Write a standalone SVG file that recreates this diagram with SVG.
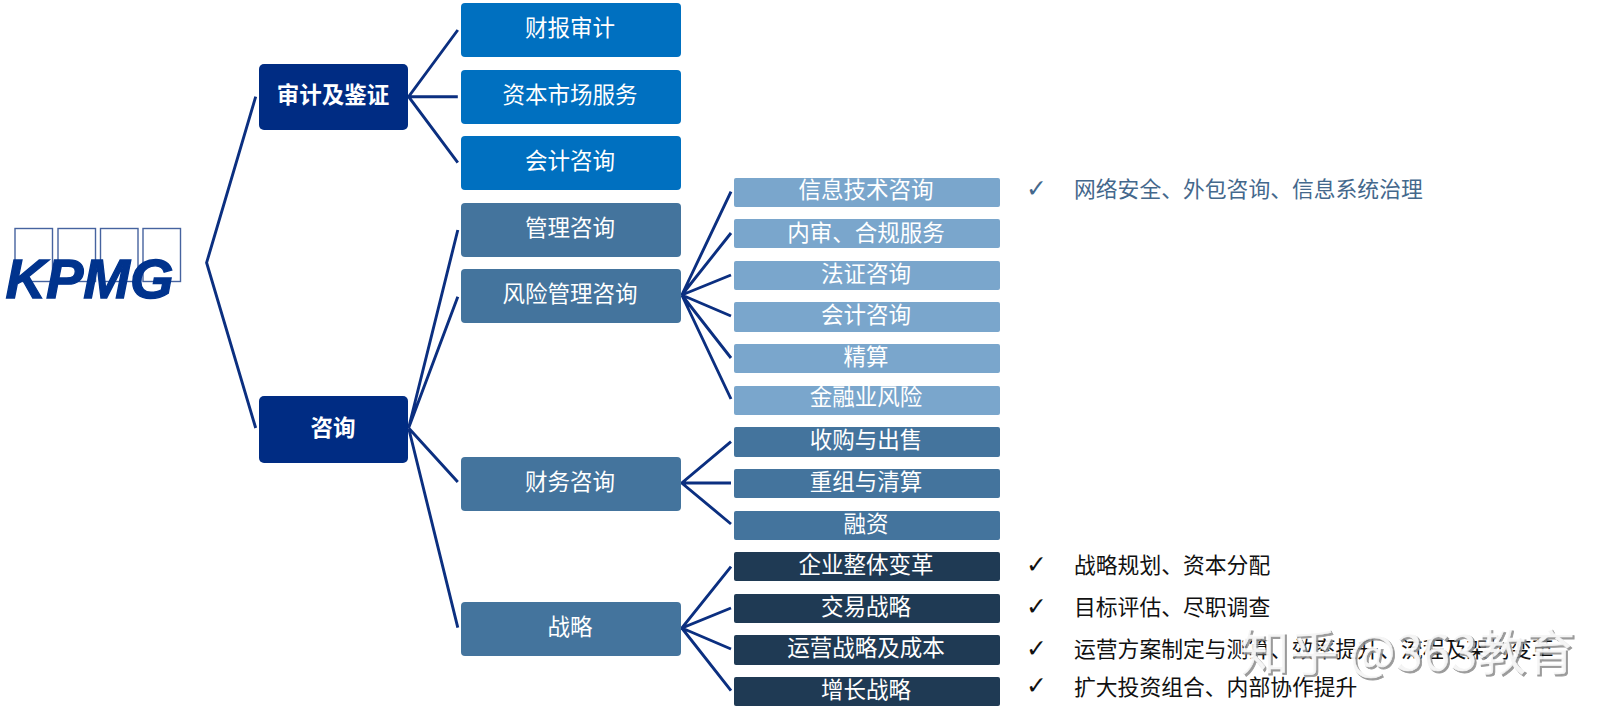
<svg xmlns="http://www.w3.org/2000/svg" width="1617" height="720" viewBox="0 0 1617 720">
<style>
text{font-family:"Liberation Serif","Noto Sans CJK SC",serif}
.n text{font-size:22.5px;fill:#fff;text-anchor:middle}
.l1 rect{fill:#002c83}
.l1 text{font-weight:700}
.blue rect{fill:#0070c0}
.slate rect{fill:#44749d}
.light rect{fill:#7aa6cc}
.dark rect{fill:#1f3a54}
.note{font-size:21.8px;fill:#111}
.note.b{fill:#44688c}
.chk{font-family:"DejaVu Sans",sans-serif;font-size:25px;fill:#111}
.chk.b{fill:#44688c}
#connectors path{fill:none;stroke:#0b2f80;stroke-width:2.9;stroke-linejoin:miter}
</style>
<rect width="1617" height="720" fill="#fff"/>
<g id="logo">
<g fill="none" stroke="#46639f" stroke-width="1.4">
<rect x="15" y="228.5" width="37.5" height="53"/>
<rect x="58" y="228.5" width="37.5" height="53"/>
<rect x="100.5" y="228.5" width="37.5" height="53"/>
<rect x="143" y="228.5" width="37.5" height="53"/>
</g>
<text x="5.5" y="298" style="font-family:'Liberation Sans',sans-serif;font-weight:700;font-style:italic;font-size:56px;fill:#00338d;stroke:#00338d;stroke-width:1.3">KPMG</text>
</g>
<g id="connectors">
<path d="M255.7 96.7L206.6 262.7L255.7 428"/>
<path d="M457.8 30L408.6 96.7L457.8 162.7M408.6 96.7H457.8"/>
<path d="M457.8 230L408.6 428L457.8 296.7M408.6 428L457.8 482M408.6 428L457.8 627.7"/>
<path d="M731 191.7L681.8 295L731 233M681.8 295L731 275M681.8 295L731 316M681.8 295L731 358M681.8 295L731 399"/>
<path d="M731 441.7L681.8 483L731 524M681.8 483H731"/>
<path d="M731 566.7L681.8 628L731 608M681.8 628L731 649M681.8 628L731 690.7"/>
</g>
<g id="n-audit" class="n l1"><rect x="259" y="64" width="149" height="66" rx="5"/><text x="333" y="102.5">审计及鉴证</text></g>
<g id="n-consult" class="n l1"><rect x="259" y="396" width="149" height="67" rx="5"/><text x="333" y="436">咨询</text></g>
<g id="n-fin-audit" class="n blue"><rect x="461" y="3" width="220" height="54" rx="4"/><text x="570" y="36">财报审计</text></g>
<g id="n-capital" class="n blue"><rect x="461" y="70" width="220" height="54" rx="4"/><text x="570" y="102.5">资本市场服务</text></g>
<g id="n-acct" class="n blue"><rect x="461" y="136" width="220" height="54" rx="4"/><text x="570" y="169">会计咨询</text></g>
<g id="n-mgmt" class="n slate"><rect x="461" y="203" width="220" height="54" rx="4"/><text x="570" y="236">管理咨询</text></g>
<g id="n-risk" class="n slate"><rect x="461" y="269" width="220" height="54" rx="4"/><text x="570" y="301.5">风险管理咨询</text></g>
<g id="n-finance" class="n slate"><rect x="461" y="457" width="220" height="54" rx="4"/><text x="570" y="489.5">财务咨询</text></g>
<g id="n-strategy" class="n slate"><rect x="461" y="602" width="220" height="54" rx="4"/><text x="570" y="634.5">战略</text></g>
<g id="n-it" class="n light"><rect x="734" y="178" width="266" height="29" rx="2"/><text x="866" y="198">信息技术咨询</text></g>
<g id="n-ia" class="n light"><rect x="734" y="219" width="266" height="29" rx="2"/><text x="866" y="241">内审、合规服务</text></g>
<g id="n-forensic" class="n light"><rect x="734" y="261" width="266" height="29" rx="2"/><text x="866" y="281.5">法证咨询</text></g>
<g id="n-acct2" class="n light"><rect x="734" y="302" width="266" height="30" rx="2"/><text x="866" y="322.5">会计咨询</text></g>
<g id="n-actuary" class="n light"><rect x="734" y="344" width="266" height="29" rx="2"/><text x="866" y="364.5">精算</text></g>
<g id="n-finrisk" class="n light"><rect x="734" y="386" width="266" height="29" rx="2"/><text x="866" y="405">金融业风险</text></g>
<g id="n-ma" class="n slate"><rect x="734" y="427" width="266" height="30" rx="2"/><text x="866" y="447.5">收购与出售</text></g>
<g id="n-restructure" class="n slate"><rect x="734" y="469" width="266" height="29" rx="2"/><text x="866" y="489.5">重组与清算</text></g>
<g id="n-financing" class="n slate"><rect x="734" y="511" width="266" height="29" rx="2"/><text x="866" y="532">融资</text></g>
<g id="n-enterprise" class="n dark"><rect x="734" y="552" width="266" height="29" rx="2"/><text x="866" y="572.5">企业整体变革</text></g>
<g id="n-deal" class="n dark"><rect x="734" y="594" width="266" height="29" rx="2"/><text x="866" y="614.5">交易战略</text></g>
<g id="n-ops" class="n dark"><rect x="734" y="635" width="266" height="30" rx="2"/><text x="866" y="656">运营战略及成本</text></g>
<g id="n-growth" class="n dark"><rect x="734" y="677" width="266" height="29" rx="2"/><text x="866" y="697.5">增长战略</text></g>
<g id="notes">
<text class="chk b" x="1026" y="197">✓</text><text class="note b" x="1074" y="197">网络安全、外包咨询、信息系统治理</text>
<text class="chk" x="1026" y="573">✓</text><text class="note" x="1074" y="573">战略规划、资本分配</text>
<text class="chk" x="1026" y="615">✓</text><text class="note" x="1074" y="615">目标评估、尽职调查</text>
<text class="chk" x="1026" y="657">✓</text><text class="note" x="1074" y="657">运营方案制定与测算、效率提升、流程及架构变革</text>
<text class="chk" x="1026" y="694">✓</text><text class="note" x="1074" y="695">扩大投资组合、内部协作提升</text>
</g>
<g id="watermark" style="font-size:49px">
<text x="1242" y="672" fill="#8a8a8a" stroke="#8a8a8a" stroke-width=".8" opacity=".85" style="font-family:'Noto Sans CJK SC',sans-serif">知乎 @363教育</text>
<text x="1240" y="670" fill="#fff" stroke="#fff" stroke-width=".6" opacity=".9" style="font-family:'Noto Sans CJK SC',sans-serif">知乎 @363教育</text>
</g>
</svg>
